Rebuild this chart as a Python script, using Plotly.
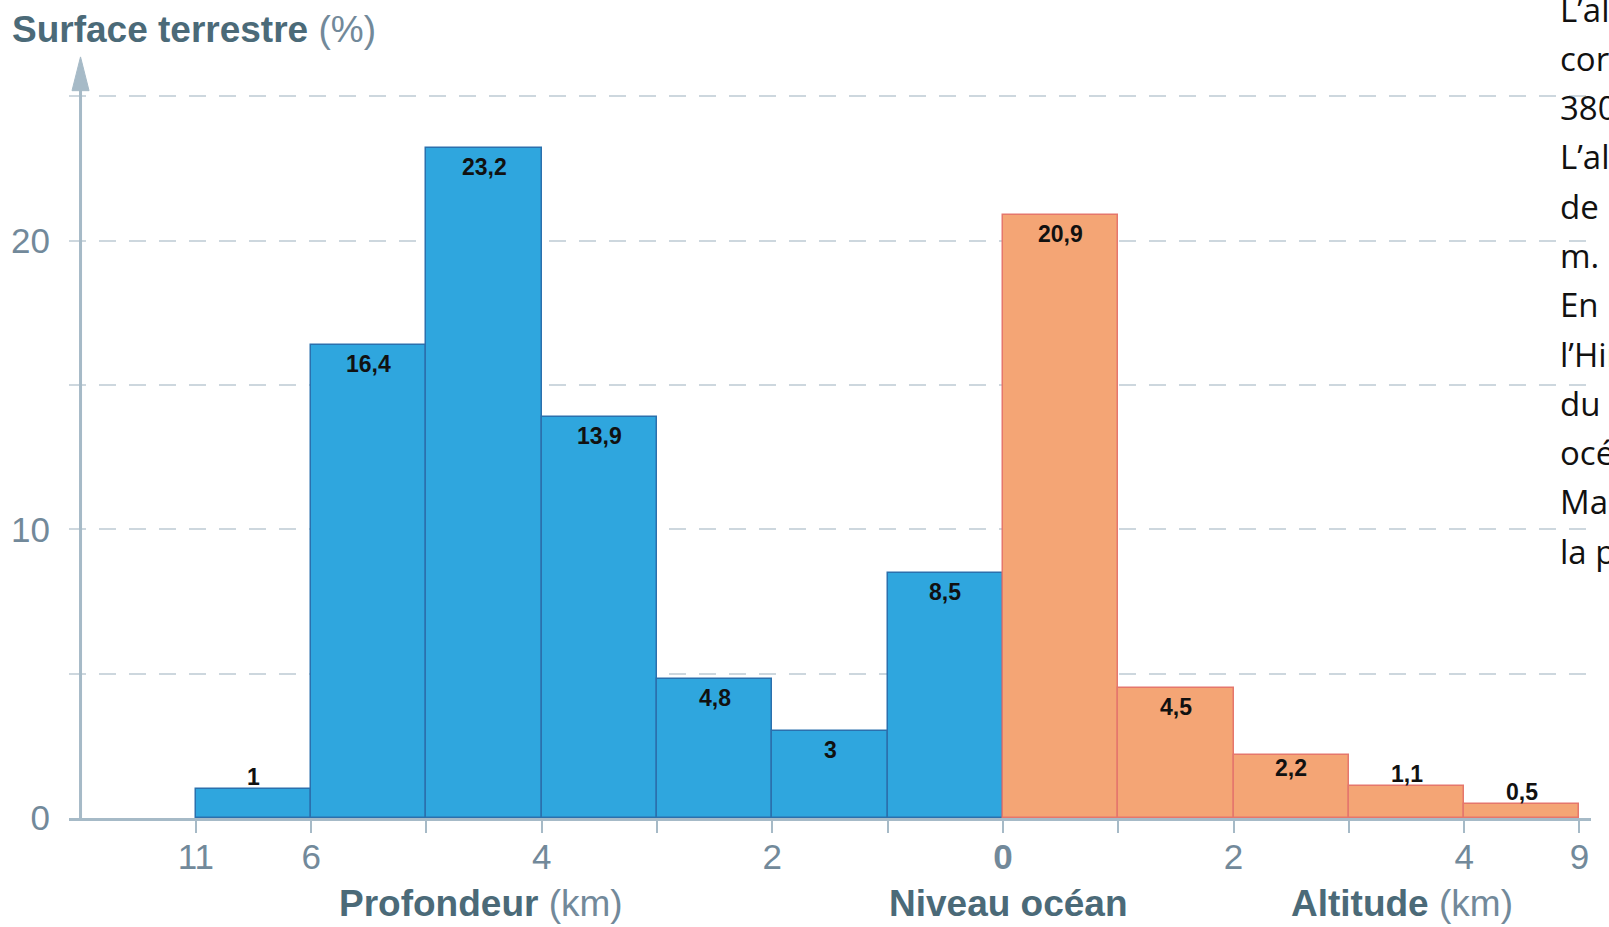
import plotly.graph_objects as go

# Hypsometric distribution of the Earth's surface (% of total area per elevation band)
surface_pct = [1, 16.4, 23.2, 13.9, 4.8, 3, 8.5, 20.9, 4.5, 2.2, 1.1, 0.5]
zones = ["ocean"] * 7 + ["land"] * 5
# Labels on the class boundaries (depth on the left, altitude on the right, km)
edge_labels = ["11", "6", "", "4", "", "2", "", "<b>0</b>", "", "2", "", "4", "9"]
side_lines = ["L\u2019altitude", "correspond", "3800", "L\u2019altitude", "de", "m.",
              "En", "l\u2019Himalaya", "du", "océan", "Mais", "la plus"]

SANS = "Liberation Sans, Arial, sans-serif"
DARK = "#4b6a78"
GREY = "#72899a"
AXIS = "#a6bac7"
GRID = "#cdd7de"

fill = {"ocean": "#2fa6de", "land": "#f4a575"}
edge = {"ocean": "#2b70ad", "land": "#e5776c"}

W, H = 1609, 927
ML, MR, MT, MB = 69, 18, 52, 109
plot_h = H - MT - MB
plot_w = W - ML - MR

centers = [i + 0.5 for i in range(len(surface_pct))]

fig = go.Figure()
fig.add_trace(go.Bar(
    x=centers, y=surface_pct, width=1,
    marker=dict(color=[fill[z] for z in zones],
                line=dict(color=[edge[z] for z in zones], width=1.5)),
    hoverinfo="skip", showlegend=False,
))

# value labels on the bars
for xc, v in zip(centers, surface_pct):
    txt = f"{v:g}".replace(".", ",")
    if v < 2:
        shift = 12
    elif v < 3:
        shift = -13
    else:
        shift = -19
    fig.add_annotation(x=xc, y=v, xref="x", yref="y", text=f"<b>{txt}</b>",
                       showarrow=False, yanchor="middle", yshift=shift,
                       font=dict(family=SANS, size=23, color="#111111"))

# vertical axis with arrow head
fig.add_shape(type="line", xref="x", yref="y", x0=-1, x1=-1, y0=0, y1=25.3,
              line=dict(color=AXIS, width=3), layer="above")
fig.add_shape(type="path", xref="x", yref="y",
              path="M -1.074 25.2 L -1 26.37 L -0.926 25.2 Z",
              fillcolor=AXIS, line=dict(color=AXIS, width=1), layer="above")

# axis titles under the horizontal axis
def axis_title(bold, light=""):
    s = f"<span style='color:{DARK}'><b>{bold}</b></span>"
    if light:
        s += f"<span style='color:{GREY}'> {light}</span>"
    return s

y_lab = -(903 - (H - MB)) / plot_h
for xc, b, l in [(2.47, "Profondeur", "(km)"), (7.05, "Niveau océan", ""),
                 (10.46, "Altitude", "(km)")]:
    fig.add_annotation(x=xc, y=y_lab, xref="x", yref="paper", text=axis_title(b, l),
                       showarrow=False, xanchor="center", yanchor="middle",
                       font=dict(family=SANS, size=37))

# paragraph running off the right edge
for k, line in enumerate(side_lines):
    py = 9 + 49.3 * k
    fig.add_annotation(x=(1558 - ML) / plot_w, y=(H - MB - py) / plot_h,
                       xref="paper", yref="paper", text=line, showarrow=False,
                       xanchor="left", yanchor="middle",
                       font=dict(family="Open Sans, Lato, sans-serif", size=33, color="#111111"))

fig.update_layout(
    width=W, height=H,
    margin=dict(l=ML, r=MR, t=MT, b=MB),
    paper_bgcolor="white", plot_bgcolor="white",
    bargap=0,
    title=dict(
        text=f"<b>Surface terrestre</b><span style='color:{GREY}'> (%)</span>",
        x=12 / W, xref="container", xanchor="left",
        y=1 - 29 / H, yref="container", yanchor="middle",
        font=dict(family=SANS, size=37, color=DARK),
    ),
    xaxis=dict(
        range=[-1.1, 12.1],
        tickmode="array", tickvals=list(range(len(edge_labels))), ticktext=edge_labels,
        ticks="outside", ticklen=12, tickwidth=2, tickcolor=AXIS,
        showline=True, linecolor=AXIS, linewidth=3,
        showgrid=False, zeroline=False,
        ticklabelstandoff=-6,
        tickfont=dict(family=SANS, size=35, color=GREY),
    ),
    yaxis=dict(
        range=[0, 26.54],
        tickmode="array", tickvals=[0, 10, 20], ticktext=["0", "10", "20"],
        ticks="", showline=False, zeroline=False,
        showgrid=True, gridcolor=GRID, gridwidth=2, griddash="17px,13px",
        minor=dict(tickvals=[5, 15, 25], showgrid=True, gridcolor=GRID,
                   gridwidth=2, griddash="17px,13px"),
        ticklabelstandoff=18,
        tickfont=dict(family=SANS, size=35, color=GREY),
    ),
)

fig.write_html("out.html")
